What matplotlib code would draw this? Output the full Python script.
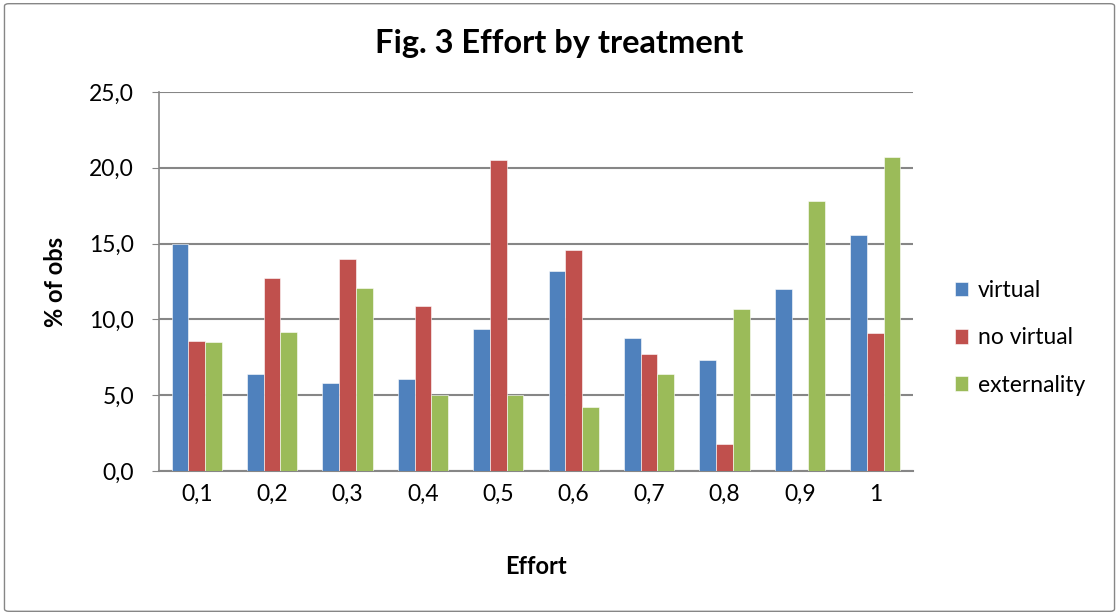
import numpy as np
import matplotlib
matplotlib.use('Agg')
import matplotlib.pyplot as plt
from matplotlib.ticker import FuncFormatter, MultipleLocator
from matplotlib.patches import FancyBboxPatch

plt.rcParams['font.family'] = ['Lato', 'DejaVu Sans']

categories = ['0,1', '0,2', '0,3', '0,4', '0,5', '0,6', '0,7', '0,8', '0,9', '1']
virtual = [15.0, 6.4, 5.8, 6.1, 9.4, 13.2, 8.8, 7.3, 12.0, 15.6]
no_virtual = [8.6, 12.7, 14.0, 10.9, 20.5, 14.6, 7.7, 1.8, 0.0, 9.1]
externality = [8.5, 9.2, 12.1, 5.0, 5.0, 4.2, 6.4, 10.7, 17.8, 20.7]

series = [('virtual', virtual, '#4F81BD'),
          ('no virtual', no_virtual, '#C0504D'),
          ('externality', externality, '#9BBB59')]

fig = plt.figure(figsize=(11.19, 6.15), dpi=100)
ax = fig.add_axes([0.1421, 0.2341, 0.6738, 0.6163])

x = np.arange(len(categories))
w = 0.222
for i, (name, vals, col) in enumerate(series):
    ax.bar(x + (i - 1) * w, vals, width=w, color=col, label=name,
           edgecolor='white', linewidth=0.4, zorder=3)

ax.set_xlim(-0.5, len(categories) - 0.5)
ax.set_ylim(0, 25)
ax.yaxis.set_major_locator(MultipleLocator(5))
ax.yaxis.set_major_formatter(FuncFormatter(lambda v, p: f'{v:.1f}'.replace('.', ',')))
ax.set_xticks(x)
ax.set_xticklabels(categories)
ax.grid(axis='y', color='#868686', linewidth=1.5, zorder=0)

for s in ['top', 'right']:
    ax.spines[s].set_visible(False)
ax.spines['left'].set_color('#868686')
ax.spines['bottom'].set_color('#868686')
ax.spines['left'].set_linewidth(1.2)
ax.spines['bottom'].set_linewidth(1.5)

ax.tick_params(axis='y', length=5, color='#868686', pad=13, labelsize=16.5)
ax.tick_params(axis='x', length=0, pad=9, labelsize=16.5)

fig.text(0.5, 1 - 43 / 615, 'Fig. 3 Effort by treatment', fontsize=23.5,
         fontweight='bold', ha='center', va='center')
ax.set_ylabel('% of obs', fontsize=17, fontweight='bold', labelpad=16)
ax.set_xlabel('Effort', fontsize=17, fontweight='bold', labelpad=36)

ax.legend(loc='center left', bbox_to_anchor=(1.028, 0.351), frameon=False,
          fontsize=16.5, handlelength=0.6, handleheight=0.6, handletextpad=0.4,
          labelspacing=1.15)

border = FancyBboxPatch((0.004, 0.006), 0.992, 0.988, boxstyle='round,pad=0,rounding_size=0.004',
                        transform=fig.transFigure, fill=False, edgecolor='#868686', linewidth=1)
fig.patches.append(border)

fig.savefig('out.png', dpi=100, facecolor='white')
